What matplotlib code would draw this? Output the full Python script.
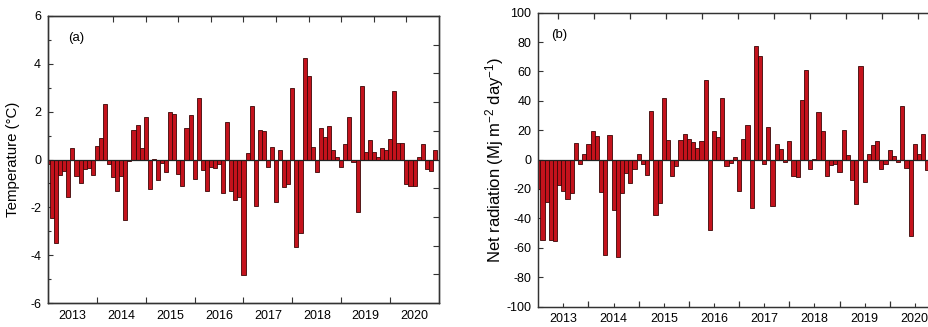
import matplotlib
matplotlib.use('Agg')
import matplotlib.pyplot as plt
import numpy as np

plt.rcParams['font.family'] = ['Liberation Sans', 'DejaVu Sans']
plt.rcParams['axes.unicode_minus'] = False
plt.rcParams['mathtext.default'] = 'regular'

# ---------------- data ----------------
years = ['2013', '2014', '2015', '2016', '2017', '2018', '2019', '2020']

# monthly temperature anomaly (°C), Jan 2013 ... Dec 2020
temp_anom = [
    -0.2, -2.44, -3.5, -0.65, -0.47, -1.56, 0.46, -0.68, -1.0, -0.39, -0.35, -0.64,
    0.56, 0.9, 2.3, -0.2, -0.72, -1.32, -0.67, -2.54, -0.08, 1.23, 1.45, 0.46,
    1.79, -1.23, 0.04, -0.84, -0.15, -0.53, 1.98, 1.9, -0.62, -1.1, 1.32, 1.87,
    -0.8, 2.57, -0.42, -1.3, -0.31, -0.35, -0.2, -1.39, 1.58, -1.3, -1.69, -1.56,
    -4.81, 0.28, 2.23, -1.95, 1.24, 1.21, -0.31, 0.53, -1.79, 0.39, -1.14, -1.03,
    2.97, -3.65, -3.07, 4.24, 3.5, 0.53, -0.53, 1.3, 0.92, 1.42, 0.39, 0.11,
    -0.33, 0.66, 1.79, -0.1, -2.19, 3.08, 0.32, 0.81, 0.32, 0.11, 0.47, 0.39,
    0.86, 2.86, 0.7, 0.7, -1.03, -1.09, -1.09, 0.11, 0.66, -0.38, -0.49, 0.39,
]

# monthly net radiation anomaly (MJ m-2 day-1), visible part of panel (b)
netrad_anom = [
    -20, -55, -29, -54.5, -55.5, -17.5, -21.5, -26.5, -23, 11.2, -2.8, 3.5,
    10.3, 19.3, 16, -22, -65, 17, -34, -66, -22.7, -9, -16, -6.4,
    3.6, -2.7, -10.2, 33, -38, -29.5, 41.6, 13.2, -11.4, -4.3, 13.2, 17.7,
    14.3, 11.8, 8.2, 12.5, 54, -47.7, 19.5, 15.5, 41.6, -4.5, -2.3, 1.8,
    -21.4, 14.3, 23.4, -33, 77.5, 70.7, -2.7, 22.3, -31.8, 10.9, 7.5, -1.6,
    12.7, -11, -11.6, 40.5, 61.2, -6.2, 0.3, 32.3, 19.3, -11.5, -3.7, -2.8,
    -8.5, 20.2, 3.3, -14, -30, 64, -15.2, 3.6, 9.8, 12.7, -6.1, -2.7,
    6.4, 2.3, -1.6, 36.4, -5.7, -52.3, 10.9, 4.1, 17.7, -7.3,
]

BAR_FACE = '#c4121c'
BAR_EDGE = '#3c0606'
SPINE = '#333333'
N_MONTHS = 96

fig = plt.figure(figsize=(9.29, 3.27), dpi=100)
ax1 = fig.add_axes([48 / 929, 24 / 327, 391 / 929, 287 / 327])
ax2 = fig.add_axes([538.3 / 929, 20.5 / 327, 401.6 / 929, 293.8 / 327])


def draw_bars(ax, vals):
    x = np.arange(len(vals))
    ax.bar(x, vals, width=1.0, color=BAR_FACE, edgecolor=BAR_EDGE,
           linewidth=0.6, zorder=2)
    ax.axhline(0, color='#222222', lw=0.9, zorder=3)
    ax.set_xlim(0, N_MONTHS)
    for s in ax.spines.values():
        s.set_color(SPINE)
        s.set_linewidth(0.9)


# ---------------- panel (a) ----------------
draw_bars(ax1, temp_anom)
ax1.set_ylim(-6, 6)
ax1.set_yticks(np.arange(-6, 7, 2))
ax1.set_yticks(np.arange(-5, 6, 2), minor=True)
ax1.set_xticks(np.arange(12, 96, 12))
ax1.set_xticklabels([])
ax1.set_xticks(np.arange(6, 96, 12), minor=True)
ax1.set_xticklabels(years, minor=True)
ax1.tick_params(axis='x', which='major', direction='in', length=4, width=0.8,
                top=False, color=SPINE)
ax1.tick_params(axis='x', which='minor', length=0, pad=5, labelsize=9)
ax1.tick_params(axis='y', which='major', direction='in', length=3.5, width=0.8,
                right=False, labelsize=9, pad=5, color=SPINE)
ax1.tick_params(axis='y', which='minor', direction='in', length=2, width=0.8,
                right=False, color=SPINE)
ax1.set_ylabel('Temperature (°C)', fontsize=10.8)
ax1.yaxis.set_label_coords(-0.072, 0.5)
ax1.text(0.052, 0.925, '(a)', transform=ax1.transAxes, fontsize=9.5,
         va='center', ha='left')

t1 = ax1.twinx()
t1.set_ylim(-6, 6)
t1.set_yticks([-4.8, -3.6, -2.4, -1.2, 1.2, 2.4, 3.6, 4.8])
t1.tick_params(axis='y', direction='in', length=4, width=0.8, labelright=False,
               color=SPINE)
u1 = ax1.twiny()
u1.set_xlim(0, N_MONTHS)
u1.set_xticks(np.arange(16, 90, 8))
u1.tick_params(axis='x', direction='in', length=4, width=0.8, labeltop=False,
               color=SPINE)
for a in (t1, u1):
    for s in a.spines.values():
        s.set_color(SPINE)
        s.set_linewidth(0.9)

# ---------------- panel (b) ----------------
draw_bars(ax2, netrad_anom)
ax2.set_ylim(-100, 100)
ax2.set_yticks(np.arange(-100, 101, 20))
ax2.set_xticks(np.arange(6, 96, 12))
ax2.set_xticklabels(years)
ax2.set_xticks(np.arange(12, 96, 12), minor=True)
ax2.tick_params(axis='x', which='major', direction='in', length=3, width=0.8,
                top=False, labelsize=9, pad=5, color=SPINE)
ax2.tick_params(axis='x', which='minor', direction='in', length=4.5, width=0.9,
                top=False, color=SPINE)
ax2.tick_params(axis='y', which='major', direction='in', length=3.5, width=0.8,
                right=False, labelsize=9, pad=5, color=SPINE)
ax2.set_ylabel('Net radiation (Mj m$^{-2}$ day$^{-1}$)', fontsize=12)
ax2.yaxis.set_label_coords(-0.08, 0.5)
ax2.text(0.033, 0.925, '(b)', transform=ax2.transAxes, fontsize=9.5,
         va='center', ha='left')

u2 = ax2.twiny()
u2.set_xlim(0, N_MONTHS)
u2.set_xticks(4.7 + 8.6 * np.arange(11))
u2.tick_params(axis='x', direction='in', length=4.5, width=0.9, labeltop=False,
               color=SPINE)
for s in u2.spines.values():
    s.set_color(SPINE)
    s.set_linewidth(0.9)

fig.savefig('out.png', dpi=100)
